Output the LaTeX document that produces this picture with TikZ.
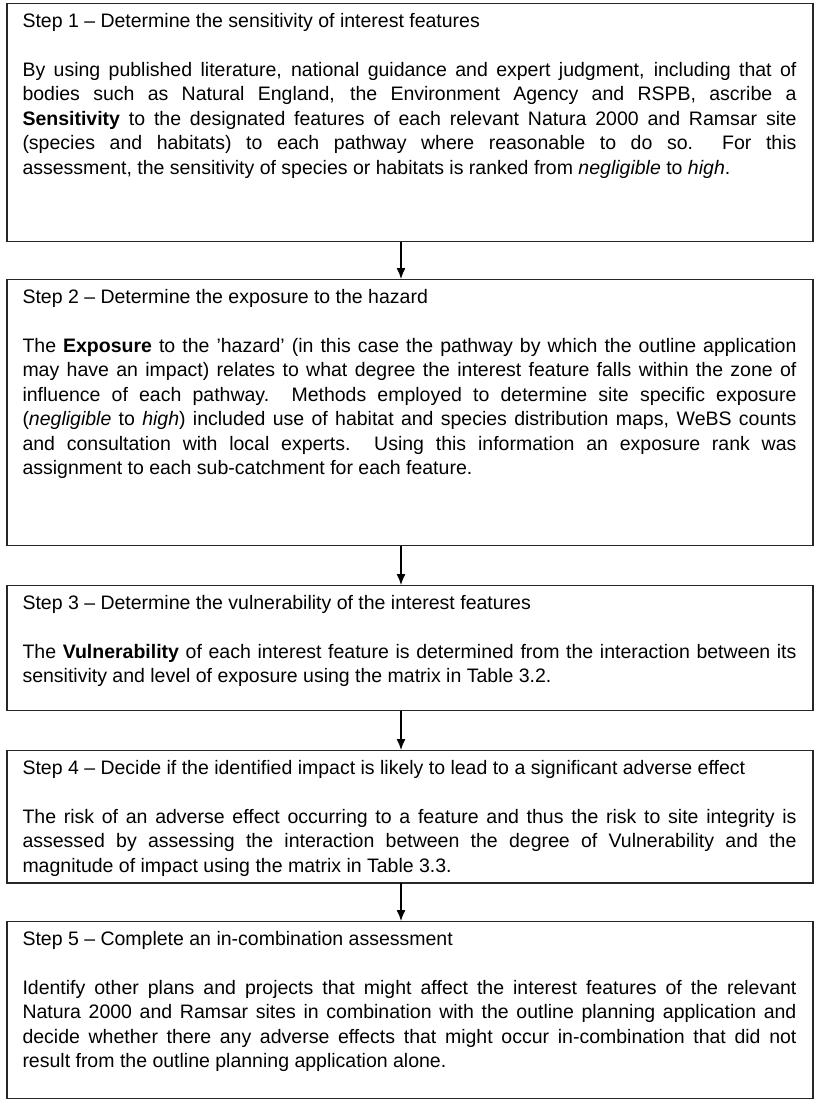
\documentclass[tikz,border=0pt]{standalone}
\usepackage{fontspec}
\setmainfont{Liberation Sans}
\usetikzlibrary{arrows.meta}
\newlength{\bodyw}
\setlength{\bodyw}{774pt}
\tikzset{
  stepbox/.style={draw=black!85, line width=1.4pt, minimum width=806pt, inner sep=0pt, anchor=north},
  steptext/.style={anchor=north west, inner sep=0pt, text width=\bodyw, align=justify,
    font=\fontsize{19.5pt}{24.5pt}\selectfont},
  flow/.style={-{Latex[length=11pt,width=9pt]}, line width=1.3pt, black}
}
\newcommand{\gapline}{\par\vspace{24.5pt}}
\begin{document}
\begin{tikzpicture}[x=1pt,y=1pt]
\useasboundingbox (0,0) rectangle (815,-1102);
\fill[white] (0,0) rectangle (815,-1102);
% boxes
\node[stepbox, minimum height=238pt] (s1) at (410,-3) {};
\node[stepbox, minimum height=266pt] (s2) at (410,-279) {};
\node[stepbox, minimum height=125pt] (s3) at (410,-585) {};
\node[stepbox, minimum height=132pt] (s4) at (410,-750) {};
\node[stepbox, minimum height=177pt] (s5) at (410,-921) {};
% texts
\node[steptext] (t1) at ([xshift=16pt,yshift=-10pt]s1.north west) {%
Step 1 -- Determine the sensitivity of interest features\gapline
By using published literature, national guidance and expert judgment, including that of\linebreak
bodies such as Natural England, the Environment Agency and RSPB, ascribe a\linebreak
\textbf{Sensitivity} to the designated features of each relevant Natura 2000 and Ramsar site\linebreak
(species and habitats) to each pathway where reasonable to do so.\ \ For this\linebreak
assessment, the sensitivity of species or habitats is ranked from \textit{negligible} to \textit{high}.};
\node[steptext] (t2) at ([xshift=16pt,yshift=-10pt]s2.north west) {%
Step 2 -- Determine the exposure to the hazard\gapline
The \textbf{Exposure} to the 'hazard' (in this case the pathway by which the outline application\linebreak
may have an impact) relates to what degree the interest feature falls within the zone of\linebreak
influence of each pathway.\ \ Methods employed to determine site specific exposure\linebreak
(\textit{negligible} to \textit{high}) included use of habitat and species distribution maps, WeBS counts\linebreak
and consultation with local experts.\ \ Using this information an exposure rank was\linebreak
assignment to each sub-catchment for each feature.};
\node[steptext] (t3) at ([xshift=16pt,yshift=-10pt]s3.north west) {%
Step 3 -- Determine the vulnerability of the interest features\gapline
The \textbf{Vulnerability} of each interest feature is determined from the interaction between its\linebreak
sensitivity and level of exposure using the matrix in Table 3.2.};
\node[steptext] (t4) at ([xshift=16pt,yshift=-10pt]s4.north west) {%
Step 4 -- Decide if the identified impact is likely to lead to a significant adverse effect\gapline
The risk of an adverse effect occurring to a feature and thus the risk to site integrity is\linebreak
assessed by assessing the interaction between the degree of Vulnerability and the\linebreak
magnitude of impact using the matrix in Table 3.3.};
\node[steptext] (t5) at ([xshift=16pt,yshift=-10pt]s5.north west) {%
Step 5 -- Complete an in-combination assessment\gapline
Identify other plans and projects that might affect the interest features of the relevant\linebreak
Natura 2000 and Ramsar sites in combination with the outline planning application and\linebreak
decide whether there any adverse effects that might occur in-combination that did not\linebreak
result from the outline planning application alone.};
% white mask so the box 4 border cuts the last line, as in the reference
\draw[black!85, line width=1.4pt] (s4.south west) -- (s4.south east);
% arrows
\draw[flow] (s1.south -| 401,0) -- (s2.north -| 401,0);
\draw[flow] (s2.south -| 401,0) -- (s3.north -| 401,0);
\draw[flow] (s3.south -| 401,0) -- (s4.north -| 401,0);
\draw[flow] (s4.south -| 401,0) -- (s5.north -| 401,0);
\end{tikzpicture}
\end{document}
